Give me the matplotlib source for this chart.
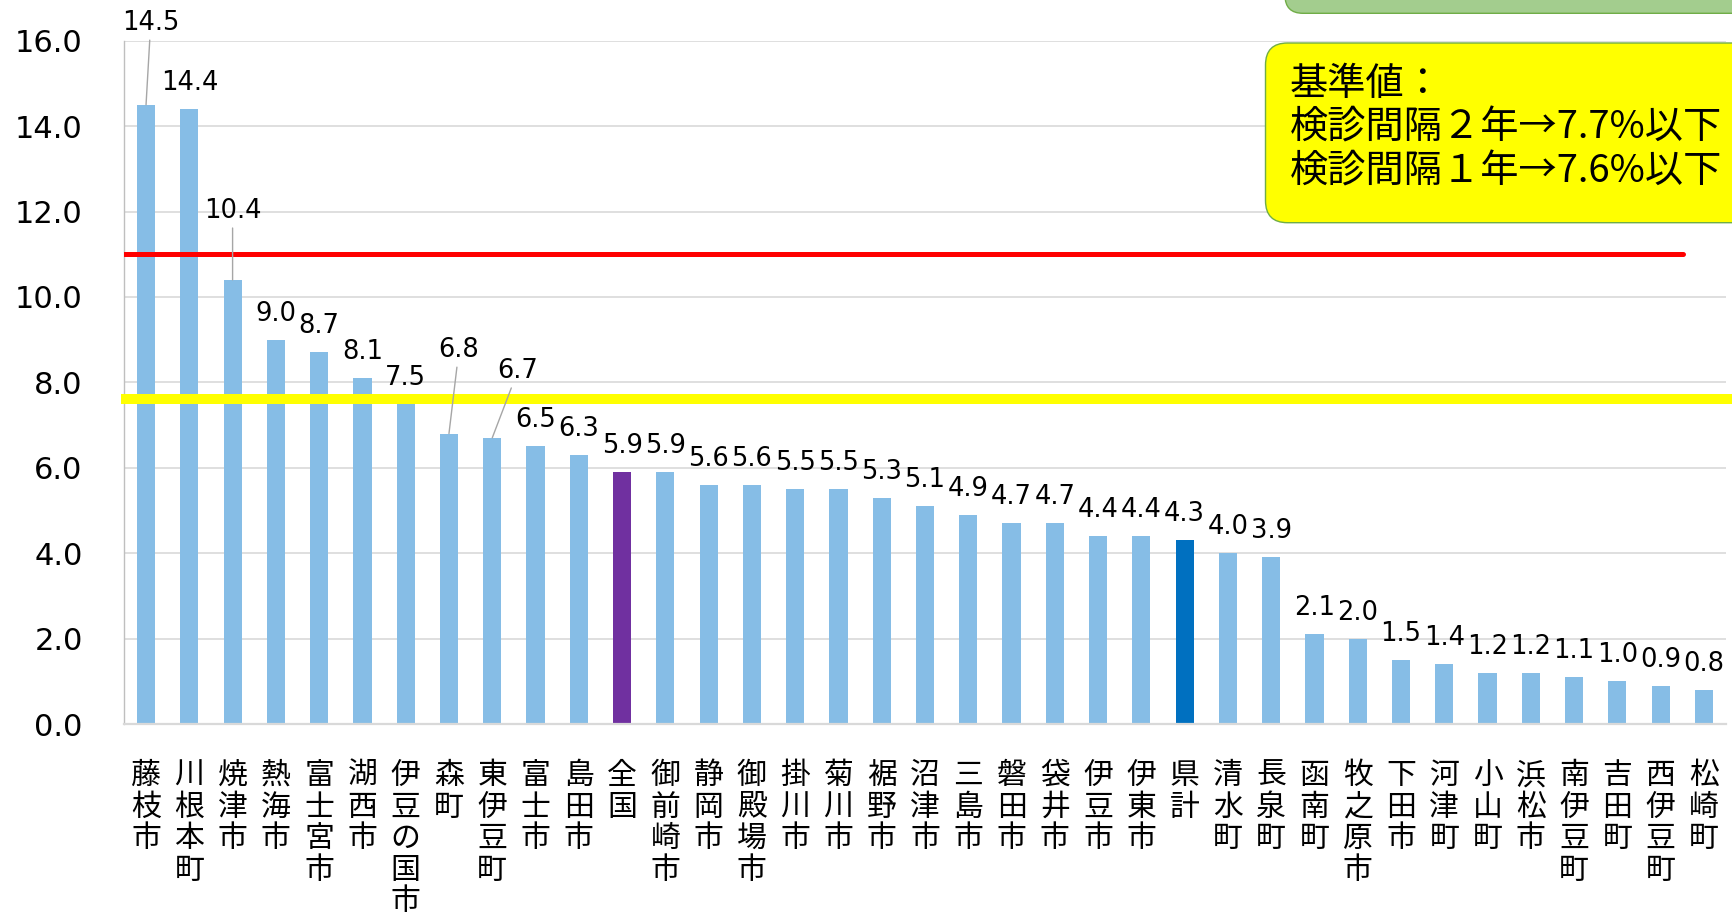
import matplotlib
matplotlib.use("Agg")
import matplotlib.pyplot as plt
from matplotlib.patches import FancyBboxPatch
from matplotlib.transforms import IdentityTransform

plt.rcParams['font.family'] = ['DejaVu Sans', 'Noto Sans CJK JP']

categories = ["藤枝市", "川根本町", "焼津市", "熱海市", "富士宮市", "湖西市", "伊豆の国市",
              "森町", "東伊豆町", "富士市", "島田市", "全国", "御前崎市", "静岡市", "御殿場市",
              "掛川市", "菊川市", "裾野市", "沼津市", "三島市", "磐田市", "袋井市", "伊豆市",
              "伊東市", "県計", "清水町", "長泉町", "函南町", "牧之原市", "下田市", "河津町",
              "小山町", "浜松市", "南伊豆町", "吉田町", "西伊豆町", "松崎町"]
values = [14.5, 14.4, 10.4, 9.0, 8.7, 8.1, 7.5, 6.8, 6.7, 6.5, 6.3, 5.9, 5.9, 5.6, 5.6,
          5.5, 5.5, 5.3, 5.1, 4.9, 4.7, 4.7, 4.4, 4.4, 4.3, 4.0, 3.9, 2.1, 2.0, 1.5, 1.4,
          1.2, 1.2, 1.1, 1.0, 0.9, 0.8]
y_ticks = [0, 2, 4, 6, 8, 10, 12, 14, 16]
red_line_value = 11.0
yellow_line_value = 7.6
box_lines = ["基準値：", "検診間隔２年→7.7%以下", "検診間隔１年→7.6%以下"]

# styles
base_color = '#86BDE6'
special_colors = {"全国": '#7030A0', "県計": '#0070C0'}
colors = [special_colors.get(c, base_color) for c in categories]

W, H = 1732, 915
fig = plt.figure(figsize=(W / 100, H / 100), dpi=100)
ax_left, ax_right, ax_bottom, ax_top = 124.4, 1725.6, 724.0, 40.7
ax = fig.add_axes([ax_left / W, (H - ax_bottom) / H,
                   (ax_right - ax_left) / W, (ax_bottom - ax_top) / H])

x = list(range(len(categories)))
ax.bar(x, values, width=0.42, color=colors, zorder=2)

ax.set_xlim(-0.5, len(categories) - 0.5)
ax.set_ylim(0, 16)
ax.set_yticks(y_ticks)
ax.set_yticklabels([f"{v:.1f}" for v in y_ticks], fontsize=22)
ax.set_xticks(x)
ax.set_xticklabels(["\n".join(c) for c in categories], fontsize=21.5,
                   family=['Noto Sans CJK JP'], linespacing=1.02, va='top')
ax.tick_params(axis='both', length=0)
ax.tick_params(axis='y', pad=30)
ax.tick_params(axis='x', pad=26)
ax.yaxis.grid(True, color='#D9D9D9', lw=1.2, zorder=0)
ax.set_axisbelow(True)
for s in ['top', 'right']:
    ax.spines[s].set_visible(False)
ax.spines['left'].set_color('#BFBFBF')
ax.spines['left'].set_linewidth(1.0)
ax.spines['bottom'].set_color('#D9D9D9')
ax.spines['bottom'].set_linewidth(1.6)

# reference lines
ax.axhline(red_line_value, xmin=0, xmax=(1683 - ax_left) / (ax_right - ax_left),
           color='#FF0000', lw=3.6, zorder=3, solid_capstyle='round')
ax.axhline(yellow_line_value, xmin=(121 - ax_left) / (ax_right - ax_left),
           xmax=(1735 - ax_left) / (ax_right - ax_left),
           color='#FFFF00', lw=7.2, zorder=3, clip_on=False, solid_capstyle='butt')

# data labels
px = 0.72
leader_offsets = {0: (4.7, 74.8), 2: (0, 62), 7: (10, 76.6), 8: (25.6, 60)}
for i, v in enumerate(values):
    if i in leader_offsets:
        dx, dy = leader_offsets[i]
        ax.annotate(f"{v:.1f}", xy=(i, v), xytext=(dx * px, dy * px),
                    textcoords='offset points', ha='center', va='baseline',
                    fontsize=18.5, zorder=5,
                    arrowprops=dict(arrowstyle='-', color='#A6A6A6', lw=1.0,
                                    shrinkA=1, shrinkB=0))
    else:
        ax.annotate(f"{v:.1f}", xy=(i, v), xytext=(0, 19 * px),
                    textcoords='offset points', ha='center', va='baseline',
                    fontsize=18.5, zorder=5)

# green box at top (partially visible)
green = FancyBboxPatch((1285, H - 13.3), 500, 60,
                       boxstyle='round,pad=0,rounding_size=18',
                       transform=IdentityTransform(), facecolor='#A3CD8E',
                       edgecolor='#70AD47', lw=1.0, zorder=10)
fig.patches.append(green)

# yellow callout box
yb_x0, yb_top, yb_bot = 1265.5, 43, 222.7
yellow = FancyBboxPatch((yb_x0, H - yb_bot), 520, yb_bot - yb_top,
                        boxstyle='round,pad=0,rounding_size=22',
                        transform=IdentityTransform(), facecolor='#FFFF00',
                        edgecolor='#70AD47', lw=1.0, zorder=10)
fig.patches.append(yellow)
for txt, yc in zip(box_lines, [84, 128, 172]):
    fig.text(1290 / W, (H - yc) / H, txt, fontsize=27.5, family=['Noto Sans CJK JP'],
             ha='left', va='center', zorder=11)

fig.savefig("out.png", dpi=100)
